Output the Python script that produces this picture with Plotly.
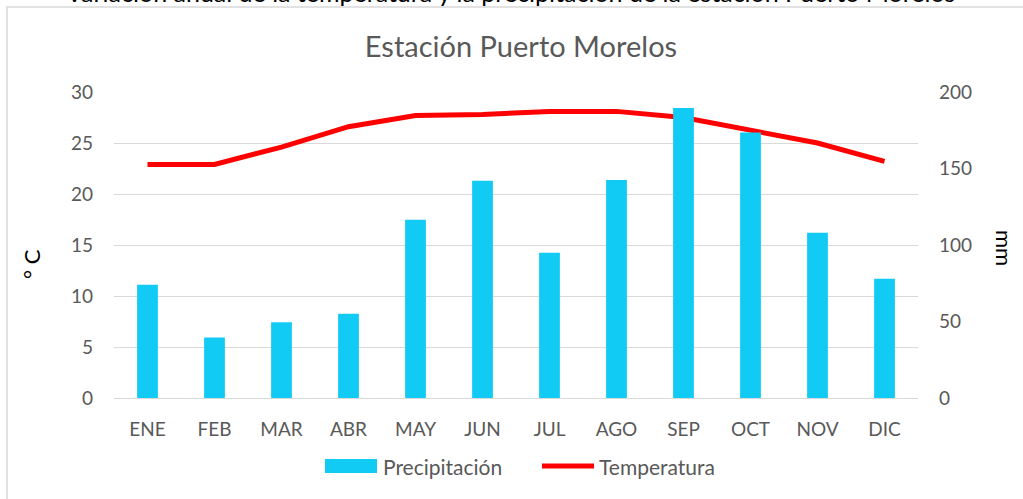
import plotly.graph_objects as go

months = ["ENE", "FEB", "MAR", "ABR", "MAY", "JUN", "JUL", "AGO", "SEP", "OCT", "NOV", "DIC"]
precip_mm = [74, 39.5, 49.5, 55, 116.5, 142, 95, 142.5, 189.5, 173.5, 108, 78]
temp_c = [22.9, 22.9, 24.6, 26.6, 27.7, 27.8, 28.1, 28.1, 27.5, 26.3, 25.0, 23.2]

FONT = "Lato, 'Open Sans', sans-serif"
GREY = "#595959"
BAR_COLOR = "#12CBF4"
LINE_COLOR = "#FF0000"

W, H = 1023, 499
L, R, T, B = 114, 918, 92, 398


def px(x):
    return (x - L) / (R - L)


def py(y):
    return (B - y) / (B - T)


fig = go.Figure()
fig.add_trace(go.Bar(
    x=months, y=precip_mm, name="Precipitación", yaxis="y2",
    marker=dict(color=BAR_COLOR, line=dict(width=0)), showlegend=False,
))
fig.add_trace(go.Scatter(
    x=months, y=temp_c, name="Temperatura", mode="lines",
    line=dict(color=LINE_COLOR, width=5), showlegend=False,
))

# legend drawn as decoration (wide swatches as in the original)
legend_shapes = [
    dict(type="rect", xref="paper", yref="paper", x0=px(325), x1=px(377), y0=py(473), y1=py(459),
         fillcolor=BAR_COLOR, line=dict(width=0)),
    dict(type="line", xref="paper", yref="paper", x0=px(542), x1=px(594), y0=py(466), y1=py(466),
         line=dict(color=LINE_COLOR, width=5)),
]
legend_ann = [
    dict(text="Precipitación", xref="paper", yref="paper", x=px(381), y=py(466), showarrow=False,
         xanchor="left", yanchor="middle", font=dict(size=21, color=GREY, family=FONT)),
    dict(text="Temperatura", xref="paper", yref="paper", x=px(597), y=py(466), showarrow=False,
         xanchor="left", yanchor="middle", font=dict(size=21, color=GREY, family=FONT)),
]

fig.update_layout(
    width=W, height=H,
    margin=dict(l=L, r=W - R, t=T, b=H - B),
    paper_bgcolor="white", plot_bgcolor="white",
    font=dict(family=FONT, size=19, color=GREY),
    bargap=0.69,
    showlegend=False,
    title=dict(text="Estación Puerto Morelos", x=521 / W, xanchor="center",
               y=1 - 47 / H, yanchor="middle", font=dict(size=29, color=GREY, family=FONT)),
    xaxis=dict(showgrid=False, showline=False, ticks="", ticklabelstandoff=18,
               tickfont=dict(size=19, color=GREY)),
    yaxis=dict(range=[0, 30], dtick=5, showgrid=True, gridcolor="#D9D9D9", gridwidth=1,
               zeroline=True, zerolinecolor="#D9D9D9", zerolinewidth=1, ticklabelstandoff=20,
               showline=False, ticks="", ticklen=0, tickfont=dict(size=19, color=GREY)),
    yaxis2=dict(range=[0, 200], dtick=50, overlaying="y", side="right", showgrid=False,
                zeroline=False, showline=False, ticks="", ticklabelstandoff=20,
                tickfont=dict(size=19, color=GREY)),
    shapes=[dict(type="rect", xref="paper", yref="paper",
                 x0=px(7), x1=px(1040), y0=py(515), y1=py(7),
                 line=dict(color="#D9D9D9", width=1.5), fillcolor="rgba(0,0,0,0)", layer="below")]
           + legend_shapes,
    annotations=[
        dict(text="° C", xref="paper", yref="paper", x=px(31), y=py(264), textangle=-90,
             showarrow=False, font=dict(size=22, color="black", family=FONT),
             xanchor="center", yanchor="middle"),
        dict(text="mm", xref="paper", yref="paper", x=px(1005), y=py(248), textangle=90,
             showarrow=False, font=dict(size=22, color="black", family=FONT),
             xanchor="center", yanchor="middle"),
        dict(text="Variación anual de la temperatura y la precipitación de la estación Puerto Morelos",
             xref="paper", yref="paper", x=px(510), y=py(-8), showarrow=False,
             font=dict(size=25, color="black", family=FONT), xanchor="center", yanchor="middle"),
    ] + legend_ann,
)

fig.write_html("out.html", config={"displayModeBar": False},
               post_script="document.body.style.margin='0';document.body.style.overflow='hidden';")
